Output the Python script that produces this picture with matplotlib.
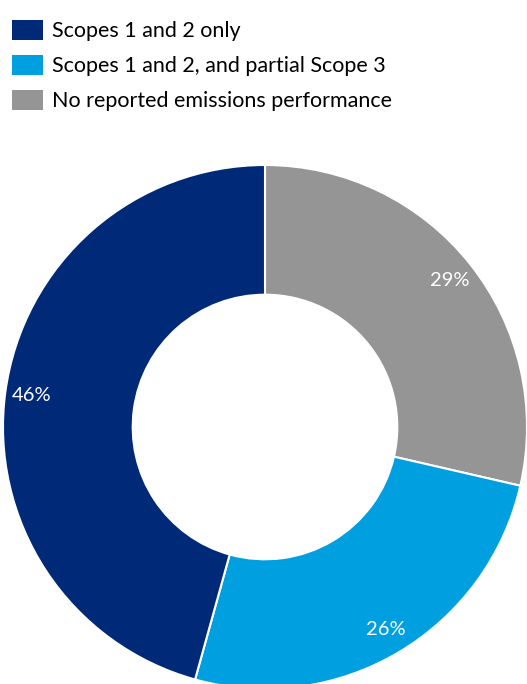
import matplotlib
matplotlib.use("Agg")
import matplotlib.pyplot as plt
from matplotlib.patches import Patch

plt.rcParams['font.family'] = ['Lato', 'DejaVu Sans']

# categories in legend order, shares in percent
categories = ["Scopes 1 and 2 only",
              "Scopes 1 and 2, and partial Scope 3",
              "No reported emissions performance"]
shares = [45.7, 25.7, 28.6]
colors = ["#002A78", "#00A0E0", "#959595"]

W, H = 527, 684
fig = plt.figure(figsize=(W / 100, H / 100), dpi=100)

# ring: centre (265, 427) px, outer radius 262 px
cx, cy, r = 265, 427, 262
ax = fig.add_axes([(cx - r) / W, (H - cy - r) / H, 2 * r / W, 2 * r / H])

# drawn clockwise from 12 o'clock: grey, light blue, navy
order = [2, 1, 0]
wedges, texts, autotexts = ax.pie(
    [shares[i] for i in order],
    colors=[colors[i] for i in order],
    startangle=90, counterclock=False, radius=1,
    autopct=lambda p: f"{p:.0f}%", pctdistance=0.9,
    wedgeprops=dict(width=0.495, edgecolor="white", linewidth=1.5),
    textprops=dict(color="white", fontsize=14.5))
ax.set_xlim(-1, 1)
ax.set_ylim(-1, 1)
ax.set_aspect("equal")
ax.axis("off")

handles = [Patch(facecolor=c, edgecolor="none") for c in colors]
fig.legend(handles, categories, loc="upper left",
           bbox_to_anchor=(12 / W, 1 - 20 / H), frameon=False,
           fontsize=15.5, borderpad=0, borderaxespad=0,
           handlelength=1.44, handleheight=1.07, handletextpad=0.4,
           labelspacing=0.62)

fig.savefig("out.png", dpi=100)
